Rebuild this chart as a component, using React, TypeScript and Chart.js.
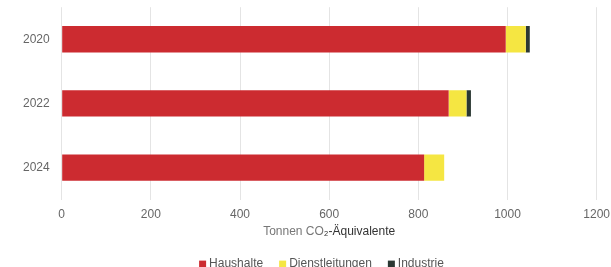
import React, { useEffect, useRef } from "react";
import { Chart, registerables } from "chart.js";

Chart.register(...registerables);

const categories = ["2020", "2022", "2024"];
const haushalte = [996, 868, 813];
const dienstleistungen = [45, 40, 45];
const industrie = [9, 10, 0];
const seriesNames = ["Haushalte", "Dienstleitungen", "Industrie"];
const seriesColors = ["#cc2b30", "#f5e642", "#2b3833"];
const titleParts = ["Tonnen CO", "\u2082-\u00C4quivalente"];

const FONT_FAMILY = "'Liberation Sans', Arial, sans-serif";

const extrasPlugin = {
  id: "extras",
  afterDraw(chart: any) {
    const ctx = chart.ctx;
    const area = chart.chartArea;
    ctx.save();
    ctx.font = `12px ${FONT_FAMILY}`;
    ctx.textBaseline = "middle";
    ctx.textAlign = "left";
    // axis title
    const w1 = ctx.measureText(titleParts[0]).width;
    const w2 = ctx.measureText(titleParts[1]).width;
    const tx = (area.left + area.right) / 2 - (w1 + w2) / 2;
    const ty = area.bottom + 32.5;
    ctx.fillStyle = "#777";
    ctx.fillText(titleParts[0], tx, ty);
    ctx.fillStyle = "#333";
    ctx.fillText(titleParts[1], tx + w1, ty);
    // legend
    const box = 7;
    const gap = 3;
    const spacing = 16;
    const items = chart.data.datasets.map((d: any) => ({
      label: d.label,
      color: d.backgroundColor,
      w: ctx.measureText(d.label).width,
    }));
    const total =
      items.reduce((s: number, it: any) => s + box + gap + it.w, 0) + spacing * (items.length - 1);
    let x = chart.width / 2 + 16 - total / 2;
    const ly = area.bottom + 64.5;
    for (const it of items) {
      ctx.fillStyle = it.color;
      ctx.fillRect(x, ly - box / 2, box, box);
      ctx.fillStyle = "#555";
      ctx.fillText(it.label, x + box + gap, ly);
      x += box + gap + it.w + spacing;
    }
    ctx.restore();
  },
};

export default function App() {
  const ref = useRef<HTMLCanvasElement>(null);
  useEffect(() => {
    if (!ref.current) return;
    const font = { family: FONT_FAMILY, size: 12 };
    const chart = new Chart(ref.current, {
      type: "bar",
      data: {
        labels: categories,
        datasets: [
          { label: seriesNames[0], data: haushalte, backgroundColor: seriesColors[0] },
          { label: seriesNames[1], data: dienstleistungen, backgroundColor: seriesColors[1] },
          { label: seriesNames[2], data: industrie, backgroundColor: seriesColors[2] },
        ],
      },
      options: {
        indexAxis: "y",
        animation: false,
        responsive: false,
        maintainAspectRatio: false,
        layout: { padding: { left: 19, right: 0, top: -4, bottom: 47 } },
        datasets: { bar: { barPercentage: 0.82, categoryPercentage: 0.5 } },
        scales: {
          x: {
            stacked: true,
            min: 0,
            max: 1200,
            ticks: { stepSize: 200, color: "#666", font, padding: 1, callback: (v: any) => String(v) },
            grid: { color: "#e4e4e4", drawTicks: true, tickLength: 7, tickColor: "rgba(0,0,0,0)" },
            border: { display: false },
          },
          y: {
            stacked: true,
            ticks: { color: "#666", font, padding: 4 },
            grid: { display: false },
            border: { display: false },
          },
        },
        plugins: {
          legend: { display: false },
          tooltip: { enabled: false },
        },
      },
      plugins: [extrasPlugin],
    });
    return () => chart.destroy();
  }, []);
  return (
    <div style={{ position: "absolute", left: 0, top: -4, width: 611, height: 274 }}>
      <canvas ref={ref} width={611} height={274} style={{ width: 611, height: 274 }} />
    </div>
  );
}
